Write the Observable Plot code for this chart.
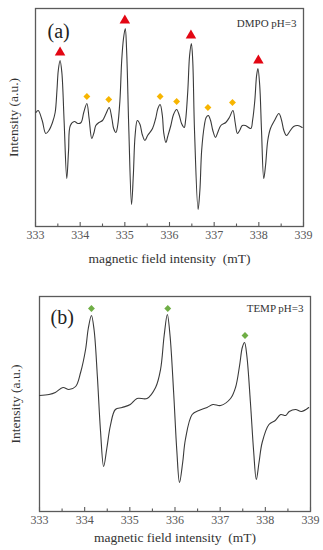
<!DOCTYPE html>
<html>
<head>
<meta charset="utf-8">
<script src="https://cdn.jsdelivr.net/npm/d3@7"></script>
<script src="https://cdn.jsdelivr.net/npm/@observablehq/plot@0.6"></script>
<style>
  html, body { margin: 0; padding: 0; background: #fff; }
  #chart svg { display: block; }
</style>
</head>
<body>
<div id="chart"></div>
<script>
// ---------- Data ----------
const majorTicks = [333, 334, 335, 336, 337, 338, 339];
const minorTicks = [333.5, 334.5, 335.5, 336.5, 337.5, 338.5];

// Panel (a): DMPO pH=3
const fieldA = [333.01,333.06,333.15,333.23,333.30,333.38,333.44,333.48,333.51,333.55,333.59,333.64,333.70,333.74,333.78,333.87,333.95,334.02,334.08,334.15,334.20,334.26,334.31,334.35,334.42,334.50,334.58,334.65,334.71,334.75,334.80,334.84,334.89,334.93,334.97,335.01,335.04,335.09,335.15,335.19,335.23,335.28,335.34,335.39,335.45,335.51,335.62,335.69,335.74,335.79,335.84,335.87,335.92,335.96,336.03,336.09,336.16,336.22,336.27,336.33,336.36,336.41,336.45,336.49,336.52,336.56,336.64,336.68,336.72,336.78,336.82,336.87,336.92,336.97,337.03,337.08,337.15,337.26,337.34,337.42,337.47,337.52,337.57,337.63,337.70,337.82,337.86,337.91,337.95,337.98,338.02,338.06,338.11,338.15,338.20,338.26,338.35,338.45,338.51,338.56,338.62,338.69,338.78,338.87,338.97];
const intensityA = [114,116,106,93,96,104,114,136,156,166,154,106,48,76,101,105,103,104,114,123,108,88,94,101,104,106,113,119,108,98,94,101,126,166,188,198,176,96,22,51,91,106,102,92,86,91,98,108,118,122,111,94,84,90,101,112,117,111,103,99,106,136,171,183,166,96,17,36,76,101,109,111,106,96,89,94,101,104,109,116,104,93,96,101,101,98,106,126,151,158,141,96,48,61,86,98,106,113,106,96,91,95,100,101,99];
const triFieldA = [333.55, 335.00, 336.48, 337.99];
const triIntA = [174, 206, 191, 166];
const diaFieldA = [334.15, 334.64, 335.79, 336.16, 336.86, 337.41];
const diaIntA = [130, 127, 130, 125, 119, 124];

// Panel (b): TEMP pH=3
const fieldB = [333.00,333.21,333.35,333.52,333.65,333.80,333.91,334.02,334.08,334.15,334.21,334.28,334.35,334.42,334.49,334.57,334.68,334.83,335.01,335.16,335.38,335.57,335.68,335.76,335.83,335.89,335.97,336.04,336.10,336.17,336.23,336.38,336.53,336.71,336.84,337.01,337.23,337.34,337.43,337.49,337.54,337.59,337.67,337.74,337.80,337.86,337.93,338.08,338.22,338.34,338.45,338.53,338.67,338.80,338.96];
const intensityB = [116,117,119,124,122,125,139,162,183,196,181,136,81,45,63,86,102,104,107,113,113,124,142,176,197,176,119,61,29,49,72,97,101,104,107,106,113,124,146,164,169,156,109,61,32,49,69,87,91,97,96,100,102,100,104];
const diaFieldB = [334.15, 335.84, 337.55];
const diaIntB = [203, 203, 176];

const xLabel = "magnetic field intensity\u00a0\u00a0(mT)";
const yLabel = "Intensity (a.u.)";

// ---------- helpers ----------
const zip = (xs, ys) => xs.map((x, i) => ({x, y: ys[i]}));
const serif = "'Liberation Serif', 'DejaVu Serif', serif";

function panel(opts) {
  const {width, height, marginLeft, marginRight, marginTop, marginBottom,
         yDomain, line, markers, tag, tagDx, tagDy, note, noteDx, noteDy,
         xLabelDy, yLabelDx} = opts;
  const frameH = height - marginTop - marginBottom;
  return Plot.plot({
    width, height, marginLeft, marginRight, marginTop, marginBottom,
    style: {background: "#fff", fontFamily: serif, color: "#333"},
    x: {domain: [333, 339]},
    y: {domain: yDomain, axis: null},
    marks: [
      Plot.frame({stroke: "#5a5a5a", strokeWidth: 1.3}),
      Plot.tickX(majorTicks, {x: d => d, insetTop: frameH - 4, stroke: "#5a5a5a", strokeWidth: 1.1}),
      Plot.tickX(minorTicks, {x: d => d, insetTop: frameH - 2.5, stroke: "#5a5a5a", strokeWidth: 1.1}),
      Plot.axisX(majorTicks, {tickSize: 0, tickPadding: 4, fontSize: 12, fill: "#555", label: null}),
      Plot.line(line, {x: "x", y: "y", stroke: "#3a3a3a", strokeWidth: 1.1, curve: "catmull-rom"}),
      ...markers,
      Plot.text([tag], {text: d => d, frameAnchor: "top-left", dx: tagDx, dy: tagDy,
        textAnchor: "start", lineAnchor: "middle", fontSize: 20, fill: "#222"}),
      Plot.text([note], {text: d => d, frameAnchor: "top-right", dx: noteDx, dy: noteDy,
        textAnchor: "end", lineAnchor: "middle", fontSize: 11, fill: "#333"}),
      Plot.text([xLabel], {text: d => d, frameAnchor: "bottom", dy: xLabelDy,
        textAnchor: "middle", lineAnchor: "middle", fontSize: 13.5, fill: "#333"}),
      Plot.text([yLabel], {text: d => d, frameAnchor: "left", dx: yLabelDx, rotate: -90,
        textAnchor: "middle", lineAnchor: "middle", fontSize: 13.5, fill: "#333"})
    ]
  });
}

const chartA = panel({
  width: 323, height: 268, marginLeft: 35, marginRight: 20, marginTop: 8, marginBottom: 42,
  yDomain: [0, 218],
  line: zip(fieldA, intensityA),
  markers: [
    Plot.dot(zip(triFieldA, triIntA), {x: "x", y: "y", symbol: "triangle", r: 3.9, fill: "#e30613", stroke: "none"}),
    Plot.dot(zip(diaFieldA, diaIntA), {x: "x", y: "y", symbol: "diamond2", r: 3.1, fill: "#f7b500", stroke: "none"})
  ],
  tag: "(a)", tagDx: 12, tagDy: 23,
  note: "DMPO pH=3", noteDx: -7, noteDy: 15,
  xLabelDy: 32, yLabelDx: -22
});

const chartB = panel({
  width: 323, height: 282, marginLeft: 39, marginRight: 13, marginTop: 28, marginBottom: 39,
  yDomain: [0, 215],
  line: zip(fieldB, intensityB),
  markers: [
    Plot.dot(zip(diaFieldB, diaIntB), {x: "x", y: "y", symbol: "diamond2", r: 3.1, fill: "#6fae45", stroke: "none"})
  ],
  tag: "(b)", tagDx: 11, tagDy: 21,
  note: "TEMP pH=3", noteDx: -7, noteDy: 12,
  xLabelDy: 26, yLabelDx: -24
});

const root = document.getElementById("chart");
root.appendChild(chartA);
root.appendChild(chartB);
</script>
</body>
</html>
